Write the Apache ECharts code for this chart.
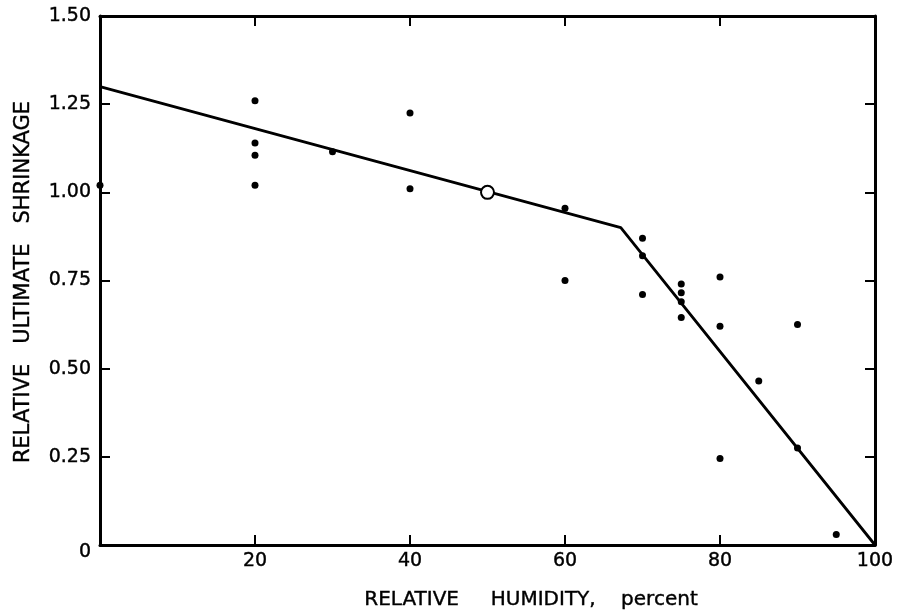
<!DOCTYPE html>
<html>
<head>
<meta charset="utf-8">
<script src="https://cdn.jsdelivr.net/npm/echarts@6/dist/echarts.min.js"></script>
<style>
  html, body { margin: 0; padding: 0; background: #fff; }
  #chart { width: 905px; height: 615px; }
</style>
</head>
<body>
<div id="chart"></div>
<script>
// Measured specimens: relative humidity (%) and relative ultimate shrinkage
const humidity = [0, 20, 20, 20, 20, 30, 40, 40, 60, 60, 70, 70, 70, 75, 75, 75, 75, 80, 80, 80, 85, 90, 90, 95];
const shrinkage = [1.02, 1.26, 1.14, 1.105, 1.02, 1.115, 1.225, 1.01, 0.955, 0.75, 0.87, 0.82, 0.71, 0.74, 0.715, 0.69, 0.645, 0.76, 0.62, 0.245, 0.465, 0.625, 0.275, 0.03];

// Fitted bilinear relation
const fitHumidity = [0, 67.2, 100];
const fitShrinkage = [1.30, 0.90, 0];

// Reference condition (50 % RH)
const refHumidity = [50];
const refShrinkage = [1.0];

const xTicks = [0, 20, 40, 60, 80, 100];
const yTicks = [0, 0.25, 0.5, 0.75, 1.0, 1.25, 1.5];

const font = 'DejaVu Sans';
const chart = echarts.init(document.getElementById('chart'));

const zip = (a, b) => a.map((v, i) => [v, b[i]]);

const axisLine = { show: true, onZero: false, lineStyle: { color: '#000', width: 3 } };
const tickStyle = { color: '#000', width: 2 };
// slightly heavier lettering
const ink = { textBorderColor: '#000', textBorderWidth: 0.4 };

chart.setOption({
  backgroundColor: '#fff',
  animation: false,
  grid: { left: 100, right: 30, top: 16, bottom: 70 },
  xAxis: [
    {
      type: 'value', position: 'bottom', min: xTicks[0], max: xTicks[xTicks.length - 1], interval: 20,
      axisLine: axisLine,
      axisTick: { show: true, inside: true, length: 10, lineStyle: tickStyle },
      axisLabel: Object.assign({
        color: '#000', fontFamily: font, fontSize: 19, margin: 7,
        formatter: v => (v === 0 ? '' : String(v))
      }, ink),
      splitLine: { show: false }
    },
    {
      type: 'value', position: 'top', min: xTicks[0], max: xTicks[xTicks.length - 1], interval: 20,
      axisLine: axisLine,
      axisTick: { show: true, inside: true, length: 10, lineStyle: tickStyle },
      axisLabel: { show: false },
      splitLine: { show: false }
    }
  ],
  yAxis: [
    {
      type: 'value', position: 'left', min: yTicks[0], max: yTicks[yTicks.length - 1], interval: 0.25,
      axisLine: axisLine,
      axisTick: { show: true, inside: true, length: 10, lineStyle: tickStyle },
      axisLabel: Object.assign({
        color: '#000', fontFamily: font, fontSize: 19, margin: 9,
        formatter: v => (v === 0 ? '{z|0}' : v.toFixed(2)),
        rich: { z: Object.assign({ fontFamily: font, fontSize: 19, color: '#000', padding: [14, 0, 0, 0] }, ink) }
      }, ink),
      splitLine: { show: false }
    },
    {
      type: 'value', position: 'right', min: yTicks[0], max: yTicks[yTicks.length - 1], interval: 0.25,
      axisLine: axisLine,
      axisTick: { show: true, inside: true, length: 10, lineStyle: tickStyle },
      axisLabel: { show: false },
      splitLine: { show: false }
    }
  ],
  graphic: [
    {
      type: 'text', x: 531, y: 600,
      style: {
        text: 'RELATIVE     HUMIDITY,    percent',
        fontFamily: font, fontSize: 20, fill: '#000',
        stroke: '#000', lineWidth: 0.4,
        align: 'center', verticalAlign: 'middle'
      }
    },
    {
      type: 'text', x: 24, y: 282, rotation: Math.PI / 2,
      style: {
        text: 'RELATIVE   ULTIMATE   SHRINKAGE',
        fontFamily: font, fontSize: 21, fill: '#000',
        stroke: '#000', lineWidth: 0.4,
        align: 'center', verticalAlign: 'middle'
      }
    }
  ],
  series: [
    {
      type: 'line',
      data: zip(fitHumidity, fitShrinkage),
      symbol: 'none',
      lineStyle: { color: '#000', width: 2.8 },
      z: 2
    },
    {
      type: 'scatter',
      data: zip(humidity, shrinkage),
      symbol: 'circle', symbolSize: 7,
      itemStyle: { color: '#000', opacity: 1 },
      clip: false,
      z: 3
    },
    {
      type: 'scatter',
      data: zip(refHumidity, refShrinkage),
      symbol: 'circle', symbolSize: 13,
      itemStyle: { color: '#fff', borderColor: '#000', borderWidth: 2, opacity: 1 },
      z: 4
    }
  ]
});
</script>
</body>
</html>
